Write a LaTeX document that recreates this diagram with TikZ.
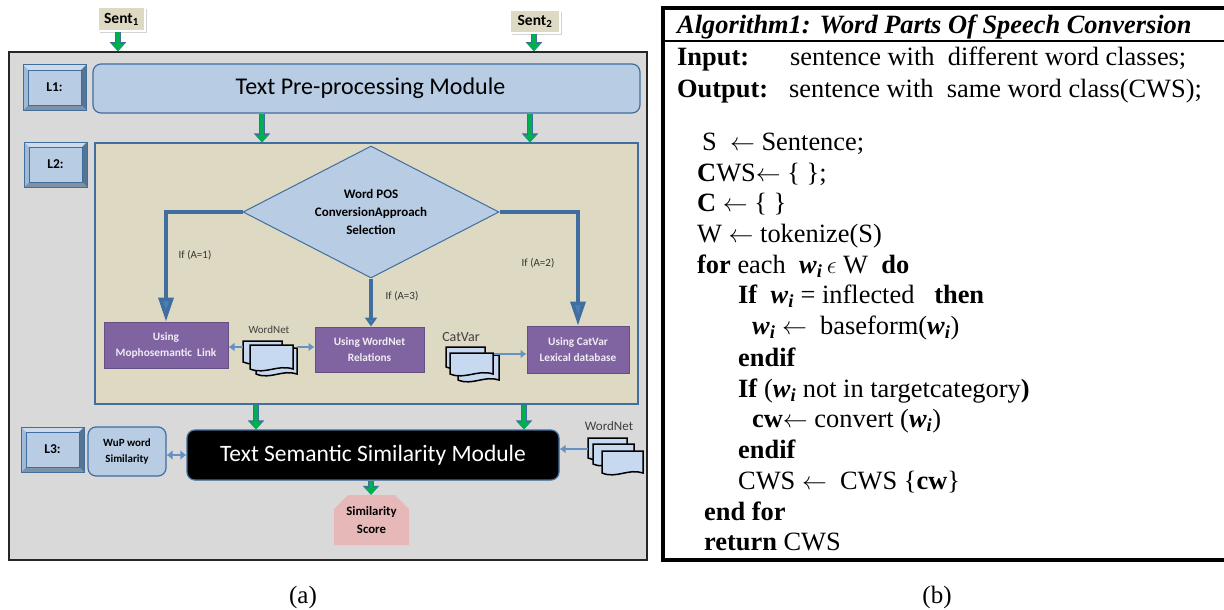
\documentclass[tikz,border=0pt]{standalone}
\usepackage{fontspec}
\setmainfont{Liberation Serif}
\newfontfamily\diagfont{Carlito}
\usetikzlibrary{arrows.meta}
\usetikzlibrary{shapes.geometric, shapes.misc}
\usetikzlibrary{shadows}
\definecolor{panelgray}{HTML}{D9D9D9}
\definecolor{paleblue}{HTML}{B8CCE4}
\definecolor{steel}{HTML}{3F6E9F}
\definecolor{flowblue}{HTML}{4A7EBB}
\definecolor{sand}{HTML}{DDD9C3}
\definecolor{plum}{HTML}{8064A2}
\definecolor{greenflow}{HTML}{00B050}
\definecolor{rosebox}{HTML}{E6B9B8}
\definecolor{docblue}{HTML}{C6D9F1}
\newcommand{\wi}{\textbf{\textit{w}}\smash{\textsubscript{\textbf{\textit{i}}}}}
\newcommand{\docpage}[4]{\draw[docline] (#1,#2) -- ++(#3,0) -- ++(0,#4) .. controls ({#1+0.65*#3},{#2+#4-5}) and ({#1+0.35*#3},{#2+#4+6}) .. (#1,{#2+#4}) -- cycle;}
\tikzset{
	level/.style={draw=steel, line width=1pt, fill=paleblue, inner sep=0pt, minimum width=63pt, minimum height=45pt,
		font=\diagfont\bfseries\fontsize{13.5}{16}\selectfont,
		path picture={
			\coordinate (nw) at (path picture bounding box.north west);
			\coordinate (ne) at (path picture bounding box.north east);
			\coordinate (sw) at (path picture bounding box.south west);
			\coordinate (se) at (path picture bounding box.south east);
			\fill[paleblue!70!white] (nw) -- (ne) -- ([shift={(-5pt,-5pt)}]ne) -- ([shift={(5pt,-5pt)}]nw) -- cycle;
			\fill[steel!65!gray] (ne) -- (se) -- ([shift={(-5pt,5pt)}]se) -- ([shift={(-5pt,-5pt)}]ne) -- cycle;
			\fill[steel!50!gray!80] (sw) -- (se) -- ([shift={(-5pt,5pt)}]se) -- ([shift={(5pt,5pt)}]sw) -- cycle;
			\fill[paleblue!80!steel] (nw) -- (sw) -- ([shift={(5pt,5pt)}]sw) -- ([shift={(5pt,-5pt)}]nw) -- cycle;
			\draw[steel, line width=0.8pt] ([shift={(5pt,5pt)}]sw) rectangle ([shift={(-5pt,-5pt)}]ne);
		}},
	module/.style={draw=steel, line width=1.2pt, rounded corners=8pt, inner sep=0pt, font=\diagfont\fontsize{24}{28}\selectfont},
	sentbox/.style={draw=white, line width=1.5pt, fill=sand, inner sep=0pt, font=\diagfont\bfseries\fontsize{15.5}{18}\selectfont, drop shadow={opacity=0.35, shadow xshift=2pt, shadow yshift=-2pt}},
	purplebox/.style={draw=plum!80!black, line width=1pt, fill=plum, text=white!88!plum, inner sep=0pt, align=center, font=\diagfont\bfseries\fontsize{11.3}{16}\selectfont},
	smalltext/.style={inner sep=0pt, text=black!80, font=\diagfont\fontsize{11}{13}\selectfont},
	doclabel/.style={inner sep=0pt, text=black!75, font=\diagfont\fontsize{13}{15}\selectfont},
	docline/.style={draw=black, line width=1.5pt, fill=docblue},
	blockarrow/.style={draw=greenflow, line width=4pt, -{Triangle[length=7pt,width=12pt,fill=greenflow]},
		preaction={draw=steel, line width=6.5pt, -{Triangle[length=9pt,width=16pt,fill=steel]}}},
	mainflow/.style={draw=steel, line width=3.5pt},
	thinflow/.style={draw=flowblue!85!white, line width=1.6pt},
	algline/.style={anchor=base west, inner sep=0pt, font=\fontsize{26.4}{30}\selectfont},
	caption/.style={inner sep=0pt, font=\fontsize{25}{29}\selectfont}
}
\begin{document}
\begin{tikzpicture}[x=1pt, y=-1pt, node distance=0pt]
	\useasboundingbox (0,0) rectangle (1224,610);

	\node (frame) [draw=black!85, line width=1.6pt, fill=panelgray, inner sep=0pt, minimum width=638pt, minimum height=508pt] at (328,306) {};
	\node (sentA) [sentbox, minimum width=47pt, minimum height=24pt] at (121.5,19) {Sent\textsubscript{1}};
	\node (sentB) [sentbox, right of=sentA, xshift=413.5pt, yshift=-2.5pt, minimum width=50pt, minimum height=23pt] {Sent\textsubscript{2}};

	% left column
	\node (levelA) [level] at (54.5,87.5) {L1:};
	\node (levelB) [level, below of=levelA, xshift=1pt, yshift=-77pt] {L2:};
	\node (levelC) [level, below of=levelB, xshift=-3pt, yshift=-285pt] {L3:};

	\node (prep) [module, fill=paleblue, minimum width=547pt, minimum height=49pt] at (366.5,88.5) {\hspace*{8pt}Text Pre-processing Module};
	\node (panel) [draw=steel, line width=1.2pt, fill=sand, inner sep=0pt, minimum width=543pt, minimum height=261pt] at (366.5,273.5) {};

	\node (choice) [diamond, draw=steel, line width=1pt, fill=paleblue, inner sep=0pt, aspect=1.94, minimum width=256pt, minimum height=132pt, align=center, font=\diagfont\bfseries\fontsize{13}{18}\selectfont] at (371,212) {Word POS\\ConversionApproach\\Selection};

	\node (mopho) [purplebox, minimum width=124pt, minimum height=46pt] at (166,345) {Using\\Mophosemantic\ \ Link};
	\node (wnrel) [purplebox, right of=mopho, xshift=203.5pt, yshift=-4.5pt, minimum width=109pt, minimum height=45pt] {Using WordNet\\Relations};
	\node (catvar) [purplebox, right of=wnrel, xshift=208.5pt, minimum width=102pt, minimum height=47pt] {Using CatVar\\Lexical database};

	\node (ifA) [smalltext] at (195,255) {If (A=1)};
	\node (ifB) [smalltext] at (538,263) {If (A=2)};
	\node (ifC) [smalltext] at (402,296) {If (A=3)};

	\node (labelA) [doclabel, font=\diagfont\fontsize{11}{13}\selectfont] at (269,330) {WordNet};
	\node (labelB) [doclabel, font=\diagfont\fontsize{14}{16}\selectfont] at (461,337) {CatVar};
	\node (labelC) [doclabel] at (609,426) {WordNet};

	\docpage{243}{341}{39}{21}
	\docpage{256}{348}{41}{26}
	\docpage{250}{345}{43}{24}
	\docpage{446}{347}{39}{20}
	\docpage{458}{355}{41}{25}
	\docpage{450}{353}{43}{21}
	\docpage{588}{438}{39}{20}
	\docpage{593}{444}{41}{20}
	\docpage{602}{451}{41}{22}

	\coordinate (docA) at (243,347);
	\coordinate (docAr) at (297,347);
	\coordinate (docB) at (494,354);
	\coordinate (docC) at (588,449);

	\node (semantic) [module, fill=black, text=white, minimum width=372pt, minimum height=50pt, font=\diagfont\fontsize{23.5}{28}\selectfont] at (373,455) {Text Semantic Similarity Module};
	\node (wup) [module, fill=paleblue, minimum width=78pt, minimum height=49pt, align=center, font=\diagfont\bfseries\fontsize{11}{16}\selectfont] at (127,451.5) {WuP word\\Similarity};
	\node (score) [chamfered rectangle, chamfered rectangle corners={north west, north east}, chamfered rectangle xsep=7pt, chamfered rectangle ysep=7pt, fill=rosebox, inner sep=0pt, minimum width=75pt, minimum height=50pt, align=center, font=\diagfont\bfseries\fontsize{12.8}{18}\selectfont] at (371.5,520) {Similarity\\Score};

	\coordinate (downA) at (262,0);
	\coordinate (downB) at (530,0);
	\coordinate (downC) at (256,0);
	\coordinate (downD) at (524,0);
	\coordinate (downE) at (371,0);
	\coordinate (inA) at (118,0);
	\coordinate (inB) at (534,0);

	\begin{scope}[>=latex]
		\draw [blockarrow] (sentA.south -| inA) -- (frame.north -| inA);
		\draw [blockarrow] (sentB.south -| inB) -- (frame.north -| inB);
		\draw [blockarrow] (prep.south -| downA) -- (panel.north -| downA);
		\draw [blockarrow] (prep.south -| downB) -- (panel.north -| downB);
		\draw [blockarrow] (panel.south -| downC) -- (semantic.north -| downC);
		\draw [blockarrow] (panel.south -| downD) -- (semantic.north -| downD);
		\draw [blockarrow] (semantic.south -| downE) -- (score.north -| downE);

		\draw [mainflow, -{Triangle[length=24pt,width=15pt,fill=flowblue]}] (choice.west) -| (mopho.north);
		\draw [mainflow, -{Triangle[length=24pt,width=15pt,fill=flowblue]}] (choice.east) -| (catvar.north);
		\draw [mainflow, -{Triangle[length=9pt,width=12pt,fill=flowblue]}] (choice.south) -- (wnrel.north -| choice.south);

		\draw [thinflow, {Latex[length=6pt,width=9pt]}-] (mopho.east |- docA) -- (docA);
		\draw [thinflow, -{Latex[length=6pt,width=9pt]}] (docAr) -- (wnrel.west |- docAr);
		\draw [thinflow, -{Latex[length=6pt,width=9pt]}] (docB) -- (catvar.west |- docB);
		\draw [thinflow, -{Latex[length=6pt,width=9pt]}] (docC) -- (semantic.east |- docC);
		\draw [thinflow, line width=2pt, {Latex[length=6pt,width=10pt]}-{Latex[length=6pt,width=10pt]}] (wup.east |- semantic) -- (semantic.west);
	\end{scope}

	\node (capA) [caption] at (303,597) {(a)};
	\node (capB) [caption] at (937,597) {(b)};

	% algorithm box, open on the right
	\coordinate (boxNE) at (1224,8);
	\coordinate (boxNW) at (663,8);
	\coordinate (boxSW) at (663,560);
	\coordinate (boxSE) at (1224,560);
	\coordinate (ruleW) at (663,41);
	\coordinate (ruleE) at (1224,41);
	\draw [line width=4pt] (boxNE) -- (boxNW) -- (boxSW) -- (boxSE);
	\draw [line width=2pt] (ruleW) -- (ruleE);

	\node (title) [algline] at (677,34) {\textbf{\textit{Algorithm1: Word Parts Of Speech Conversion}}};
	\node (input) [algline] at (677,66) {\makebox[113pt][l]{\textbf{Input:}}sentence with\ \ different word classes;};
	\node (output) [algline] at (677,97) {\makebox[112pt][l]{\textbf{Output:}}sentence with\ \ same word class(CWS);};
	\node (lineA) [algline] at (702,150) {S\ \ $\leftarrow$ Sentence;};
	\node (lineB) [algline] at (697,181) {\textbf{C}WS$\leftarrow$ \{ \};};
	\node (lineC) [algline] at (697,211) {\textbf{C} $\leftarrow$ \{ \}};
	\node (lineD) [algline] at (697,242) {W $\leftarrow$ tokenize(S)};
	\node (lineE) [algline] at (697,273) {\textbf{for} each\ \ \wi\,$\epsilon$ W\ \ \textbf{do}};
	\node (lineF) [algline] at (738,303) {\textbf{If}\ \ \wi\ = inflected\ \ \ \textbf{then}};
	\node (lineG) [algline] at (752,334) {\wi\ $\leftarrow$\ \ baseform(\wi)};
	\node (lineH) [algline] at (738,366) {\textbf{endif}};
	\node (lineI) [algline] at (738,397) {\textbf{If} (\wi\ not in targetcategory\textbf{)}};
	\node (lineJ) [algline] at (752,427) {\textbf{cw}$\leftarrow$ convert (\wi)};
	\node (lineK) [algline] at (738,458) {\textbf{endif}};
	\node (lineL) [algline] at (738,489) {CWS $\leftarrow$\ \ CWS \{\textbf{cw}\}};
	\node (lineM) [algline] at (704,520) {\textbf{end for}};
	\node (lineN) [algline] at (704,550) {\textbf{return} CWS};
\end{tikzpicture}
\end{document}
